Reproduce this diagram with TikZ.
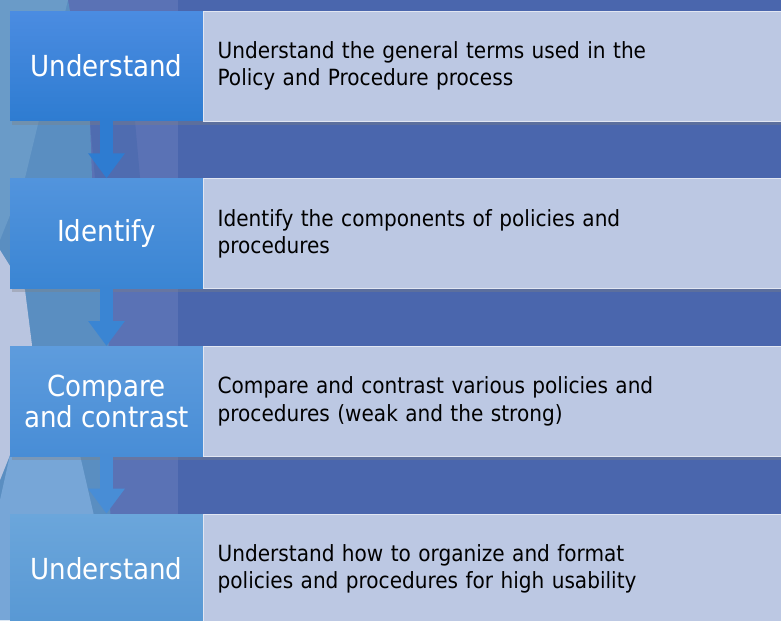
\documentclass[tikz,border=0pt]{standalone}
\usepackage{fontspec}
\setmainfont{DejaVu Sans Condensed}
\usetikzlibrary{positioning,arrows.meta,shadows}

\definecolor{slideblue}{HTML}{4A66AD}
\definecolor{facetmid}{HTML}{5A72B5}
\definecolor{facetdark}{HTML}{4F6CB0}
\definecolor{facetteal}{HTML}{5A8EC1}
\definecolor{facetlight}{HTML}{6A9BC8}
\definecolor{facetgray}{HTML}{B9C5E0}
\definecolor{facetsky}{HTML}{77A6D7}
\definecolor{descfill}{HTML}{BCC8E3}

\tikzset{
  stepbox/.style={minimum width=3.86cm, minimum height=2.2cm, inner sep=0pt,
    align=center, text=white, font=\fontsize{16.5}{17.5}\selectfont,
    drop shadow={shadow xshift=1pt, shadow yshift=-2pt, opacity=0.35}},
  descbox/.style={fill=descfill, draw=white!55!descfill, line width=0.4pt,
    minimum height=2.2cm, text width=11.3cm, inner xsep=0.28cm, align=left,
    font=\fontsize{12.7}{15.4}\selectfont,
    drop shadow={shadow xshift=1pt, shadow yshift=-2pt, opacity=0.35}},
  flowarrow/.style={line width=0.28cm, -{Triangle[width=0.7cm, length=0.5cm]}},
}

\begin{document}
\begin{tikzpicture}[x=0.02cm, y=-0.02cm]
    % Slide background with facets
    \clip (0,0) rectangle (781,620);
    \fill[slideblue] (0,0) rectangle (781,620);
    \fill[facetmid] (0,0) rectangle (178,620);
    \fill[facetteal] (0,0) -- (68,0) -- (90,121) -- (92,178) -- (110,300) -- (105,453) -- (120,620) -- (0,620) -- cycle;
    \fill[facetdark] (90,121) -- (135,121) -- (140,178) -- (95,178) -- cycle;
    \fill[facetlight] (0,0) -- (68,0) -- (25,178) -- (0,240) -- cycle;
    \fill[facetgray] (0,250) -- (25,290) -- (32,345) -- (10,455) -- (0,480) -- cycle;
    \fill[facetsky] (0,500) -- (10,455) -- (80,455) -- (95,520) -- (60,620) -- (0,620) -- cycle;

    % Steps
    \node[stepbox, top color={rgb,255:red,75;green,140;blue,225}, bottom color={rgb,255:red,46;green,124;blue,209}]
        (u1) at (106.5,66) {Understand};
    \node[stepbox, below=1.14cm of u1, top color={rgb,255:red,82;green,148;blue,221}, bottom color={rgb,255:red,58;green,133;blue,211}]
        (id2) {Identify};
    \node[stepbox, below=1.14cm of id2, top color={rgb,255:red,94;green,156;blue,221}, bottom color={rgb,255:red,72;green,141;blue,214}]
        (cc3) {Compare\\and contrast};
    \node[stepbox, below=1.14cm of cc3, top color={rgb,255:red,107;green,166;blue,219}, bottom color={rgb,255:red,88;green,152;blue,212}]
        (u4) {Understand};

    % Descriptions
    \node[descbox, right=0pt of u1] (d1) {Understand the general terms used in the\\Policy and Procedure process};
    \node[descbox, right=0pt of id2] (d2) {Identify the components of policies and\\procedures};
    \node[descbox, right=0pt of cc3] (d3) {Compare and contrast various policies and\\procedures (weak and the strong)};
    \node[descbox, right=0pt of u4] (d4) {Understand how to organize and format\\policies and procedures for high usability};

    % Arrows between steps
    \draw[flowarrow, draw={rgb,255:red,46;green,124;blue,209}, fill={rgb,255:red,46;green,124;blue,209}] (u1.south) -- (id2.north);
    \draw[flowarrow, draw={rgb,255:red,58;green,133;blue,211}, fill={rgb,255:red,58;green,133;blue,211}] (id2.south) -- (cc3.north);
    \draw[flowarrow, draw={rgb,255:red,72;green,141;blue,214}, fill={rgb,255:red,72;green,141;blue,214}] (cc3.south) -- (u4.north);
\end{tikzpicture}
\end{document}
